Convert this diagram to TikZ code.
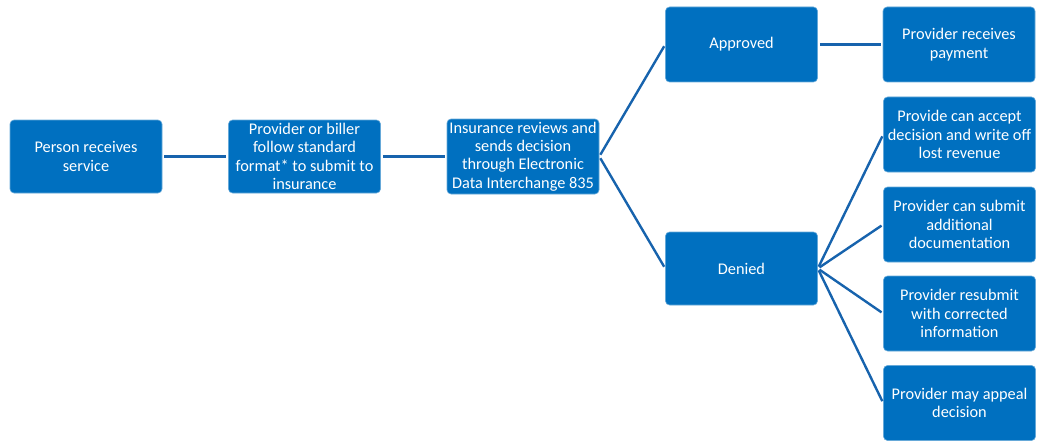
\documentclass[tikz,border=0pt]{standalone}
\usepackage{fontspec}
\setmainfont{Carlito}
\definecolor{boxblue}{HTML}{0070C0}
\definecolor{lineblue}{HTML}{1763AD}
\begin{document}
\begin{tikzpicture}[x=1pt,y=-1pt,
  box/.style={fill=boxblue, draw=boxblue!60!white, line width=0.6pt, rounded corners=4pt,
    text=white, align=center, inner sep=1pt,
    minimum width=152pt, font=\fontsize{16.3}{18.4}\selectfont},
  conn/.style={draw=lineblue, line width=2.4pt, shorten <=2pt, shorten >=2pt}]
\useasboundingbox (0,0) rectangle (1037,444);
\node[box, minimum height=73pt] (a) at (86,156.5) {Person receives\\service};
\node[box, minimum height=73pt] (b) at (304.5,156.5) {Provider or biller\\follow standard\\format* to submit to\\insurance};
\node[box, minimum height=75pt] (c) at (523,156.5) {Insurance reviews and\\sends decision\\through Electronic\\Data Interchange 835};
\node[box, minimum height=75pt] (ap) at (741.5,44.5) {Approved};
\node[box, minimum height=73pt] (de) at (741.5,268.5) {Denied};
\node[box, minimum height=75pt] (pay) at (959,44.5) {Provider receives\\payment};
\node[box, minimum height=75pt] (r1) at (959.5,134.5) {Provide can accept\\decision and write off\\lost revenue};
\node[box, minimum height=75pt] (r2) at (959.5,224.5) {Provider can submit\\additional\\documentation};
\node[box, minimum height=75pt] (r3) at (959.5,313.5) {Provider resubmit\\with corrected\\information};
\node[box, minimum height=75pt] (r4) at (959.5,403) {Provider may appeal\\decision};
\draw[conn] (a.east) -- (b.west);
\draw[conn] (b.east) -- (c.west);
\draw[conn] (c.east) -- (ap.west);
\draw[conn] (c.east) -- (de.west);
\draw[conn] (ap.east) -- (pay.west);
\draw[conn] (de.east) -- (r1.west);
\draw[conn] (de.east) -- (r2.west);
\draw[conn] (de.east) -- (r3.west);
\draw[conn] (de.east) -- (r4.west);
\end{tikzpicture}
\end{document}
